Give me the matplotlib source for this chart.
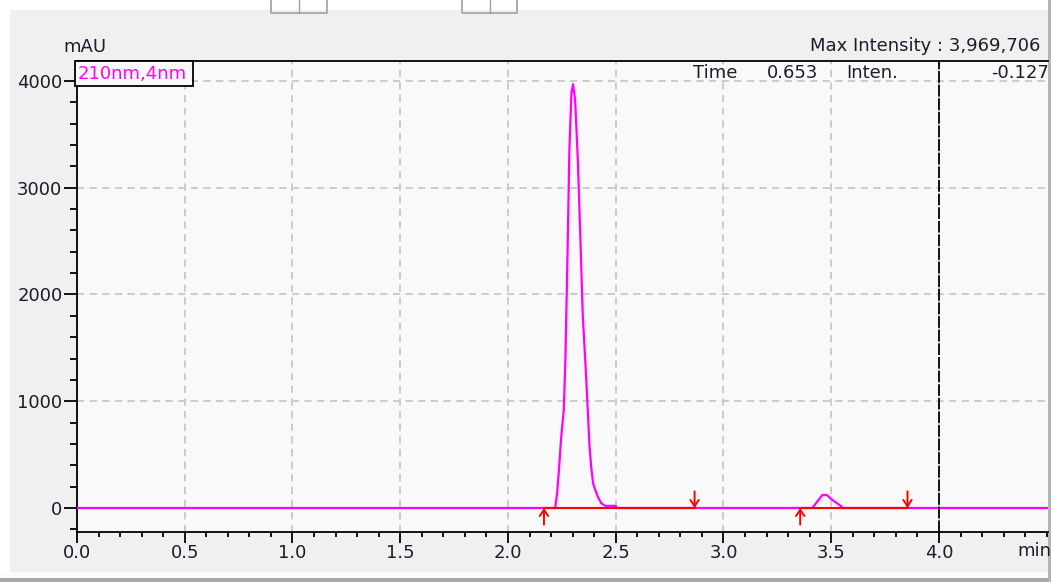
import matplotlib
matplotlib.use("Agg")
import matplotlib.pyplot as plt
from matplotlib.patches import Rectangle
from matplotlib.lines import Line2D
from matplotlib.ticker import MultipleLocator, FixedLocator

# Chromatogram, 210 nm / 4 nm channel
time_min = [0.0, 2.219, 2.228, 2.237, 2.2465, 2.259, 2.2666, 2.276, 2.285, 2.2946,
            2.302, 2.3116, 2.324, 2.3335, 2.347, 2.361, 2.371, 2.378, 2.386, 2.395,
            2.405, 2.417, 2.433, 2.451, 2.500, 2.503, 3.4126, 3.459, 3.479, 3.510,
            3.549, 3.552, 4.6]
intensity_mau = [0.0, 0.0, 137, 372, 653, 918, 1402, 2345, 3360, 3891,
                 3969.706, 3822, 3269, 2682, 1808, 1293, 887, 590, 387, 231,
                 169, 106, 44, 20, 20, 0.0, 0.0, 122, 122, 68,
                 12, 0.0, 0.0]

# Integration events (peak start / peak end) and baseline level
peak_start = [2.167, 3.356]
peak_end = [2.866, 3.854]
baseline_level = [0.0, 0.0]

cursor_time = 4.0
readout_time = 0.653
readout_inten = -0.127
channel_label = "210nm,4nm"

x_ticks = [0.0, 0.5, 1.0, 1.5, 2.0, 2.5, 3.0, 3.5, 4.0]
y_ticks = [0, 1000, 2000, 3000, 4000]

W, H = 1051, 582
FS = 13
fig = plt.figure(figsize=(W / 100, H / 100), dpi=100)
fig.patch.set_facecolor("#f0f0f0")


def fx(px):
    return px / W


def fy(py):
    return 1 - py / H


# window chrome around the plot panel
fig.add_artist(Rectangle((0, fy(10)), 1, 1 - fy(10), transform=fig.transFigure,
                         facecolor="white", edgecolor="none", zorder=0))
fig.add_artist(Rectangle((0, 0), fx(10), 1, transform=fig.transFigure,
                         facecolor="white", edgecolor="none", zorder=0))
fig.add_artist(Rectangle((0, fy(582)), 1, fy(572) - fy(582), transform=fig.transFigure,
                         facecolor="#fbfbfb", edgecolor="none", zorder=0))
fig.add_artist(Rectangle((0, 0), 1, fy(578), transform=fig.transFigure,
                         facecolor="#a8a8a8", edgecolor="none", zorder=0))
fig.add_artist(Rectangle((fx(1048), 0), 1 - fx(1048), 1, transform=fig.transFigure,
                         facecolor="#b4b4b4", edgecolor="none", zorder=0))
for x0, x1, xm in [(271, 327, 299), (462, 517, 490)]:
    fig.add_artist(Line2D([fx(x0), fx(x0), fx(x1), fx(x1)], [fy(0), fy(13), fy(13), fy(0)],
                          transform=fig.transFigure, color="#a0a0a0", lw=1.2))
    fig.add_artist(Line2D([fx(xm), fx(xm)], [fy(0), fy(13)],
                          transform=fig.transFigure, color="#a0a0a0", lw=1.0))

ax = fig.add_axes([fx(77), fy(532), fx(1048) - fx(77), fy(61) - fy(532)])
ax.set_facecolor("#f9f9f9")
ax.set_xlim(0, 4.506)
ax.set_ylim(-225, 4187)

for side in ["left", "bottom", "top"]:
    ax.spines[side].set_color("black")
    ax.spines[side].set_linewidth(1.3)
ax.spines["right"].set_visible(False)

ax.xaxis.set_major_locator(FixedLocator(x_ticks))
ax.xaxis.set_minor_locator(MultipleLocator(0.1))
ax.yaxis.set_major_locator(FixedLocator(y_ticks))
ax.yaxis.set_minor_locator(MultipleLocator(200))
ax.set_xticklabels([f"{v:.1f}" for v in x_ticks])
ax.set_yticklabels([f"{v:d}" for v in y_ticks])

ax.tick_params(axis="x", which="major", direction="out", length=8, width=1.3,
               pad=1.0, labelsize=FS, labelcolor="#1c1c2a")
ax.tick_params(axis="x", which="minor", direction="out", length=3.8, width=1.3)
ax.tick_params(axis="y", which="major", direction="out", length=9.5, width=1.3,
               pad=1.0, labelsize=FS, labelcolor="#1c1c2a")
ax.tick_params(axis="y", which="minor", direction="out", length=5, width=1.3)

ax.grid(True, which="major", color="#c8c8c8", lw=1.3, dashes=(4, 3))
ax.set_axisbelow(True)

# signal trace
ax.plot(time_min, intensity_mau, color="#ff00ff", lw=1.6, zorder=3)

# integration baselines
for t0, t1, b in zip(peak_start, peak_end, baseline_level):
    ax.plot([t0, t1], [b, b], color="#ff0000", lw=1.5, zorder=4)

# peak start / end markers
arrow_kw = dict(arrowstyle="->,head_length=0.45,head_width=0.3", color="#ff0000",
                lw=1.4, shrinkA=0, shrinkB=0)
for t, b in zip(peak_start, baseline_level):
    ax.annotate("", xy=(t, b), xytext=(0, -12), textcoords="offset points",
                arrowprops=arrow_kw, zorder=5)
for t, b in zip(peak_end, baseline_level):
    ax.annotate("", xy=(t, b), xytext=(0, 12), textcoords="offset points",
                arrowprops=arrow_kw, zorder=5)

# cursor
ax.axvline(cursor_time, color="#111111", lw=1.4, dashes=(6, 1), zorder=6)

# texts
txt_kw = dict(fontsize=FS, color="#1c1c2a", va="center")
fig.text(fx(63), fy(47), "mAU", ha="left", **txt_kw)
max_inten = max(intensity_mau)
fig.text(fx(810), fy(46), f"Max Intensity : {round(max_inten * 1000):,}", ha="left", **txt_kw)
fig.text(fx(693), fy(73), "Time", ha="left", **txt_kw)
fig.text(fx(767), fy(73), f"{readout_time:.3f}", ha="left", **txt_kw)
fig.text(fx(846), fy(73), "Inten.", ha="left", **txt_kw)
fig.text(fx(1049), fy(73), f"{readout_inten:.3f}", ha="right", **txt_kw)
fig.text(fx(1017), fy(551), "min", ha="left", **txt_kw)

fig.add_artist(Rectangle((fx(75), fy(86)), fx(193) - fx(75), fy(61) - fy(86),
                         transform=fig.transFigure, facecolor="#f9f9f9",
                         edgecolor="black", lw=1.3, zorder=7))
fig.text(fx(78), fy(74), channel_label, ha="left", va="center", fontsize=FS,
         color="#ff00ff", zorder=8)

fig.savefig("out.png", dpi=100, facecolor=fig.get_facecolor())
